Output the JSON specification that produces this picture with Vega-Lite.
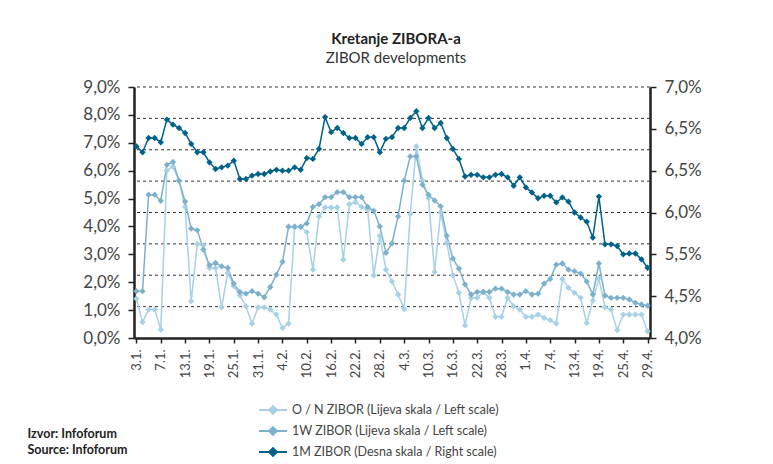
{
  "$schema": "https://vega.github.io/schema/vega-lite/v6.json",
  "width": 516,
  "height": 251,
  "autosize": {"type": "none"},
  "padding": {"left": 134, "top": 87, "right": 123, "bottom": 126},
  "background": "white",
  "config": {"view": {"stroke": null}},
  "title": {
    "text": "Kretanje ZIBORA-a",
    "subtitle": "ZIBOR developments",
    "anchor": "middle",
    "offset": 12,
    "dx": 4,
    "font": "Lato",
    "fontSize": 15,
    "fontWeight": "bold",
    "color": "#222222",
    "subtitleFont": "Lato",
    "subtitleFontSize": 15,
    "subtitleColor": "#333333",
    "subtitlePadding": 4
  },
  "datasets": {
    "grid": [{"g": 1}, {"g": 2}, {"g": 3}, {"g": 4}, {"g": 5}, {"g": 6}, {"g": 7}, {"g": 8}],
    "z": [
      {"d": "3.1.", "ON": 1.41, "1W": 1.68, "1M": 6.29},
      {"d": "4.1.", "ON": 0.57, "1W": 1.68, "1M": 6.22},
      {"d": "5.1.", "ON": 1.02, "1W": 5.14, "1M": 6.39},
      {"d": "6.1.", "ON": 1.02, "1W": 5.14, "1M": 6.39},
      {"d": "7.1.", "ON": 0.30, "1W": 4.92, "1M": 6.34},
      {"d": "10.1.", "ON": 6.00, "1W": 6.21, "1M": 6.61},
      {"d": "11.1.", "ON": 6.15, "1W": 6.31, "1M": 6.55},
      {"d": "12.1.", "ON": 5.64, "1W": 5.64, "1M": 6.51},
      {"d": "13.1.", "ON": 4.70, "1W": 4.89, "1M": 6.45},
      {"d": "14.1.", "ON": 1.32, "1W": 3.92, "1M": 6.32},
      {"d": "17.1.", "ON": 3.37, "1W": 3.86, "1M": 6.22},
      {"d": "18.1.", "ON": 3.32, "1W": 3.17, "1M": 6.22},
      {"d": "19.1.", "ON": 2.51, "1W": 2.61, "1M": 6.10},
      {"d": "20.1.", "ON": 2.51, "1W": 2.69, "1M": 6.02},
      {"d": "21.1.", "ON": 1.10, "1W": 2.57, "1M": 6.04},
      {"d": "24.1.", "ON": 2.33, "1W": 2.51, "1M": 6.06},
      {"d": "25.1.", "ON": 1.86, "1W": 1.95, "1M": 6.12},
      {"d": "26.1.", "ON": 1.53, "1W": 1.65, "1M": 5.90},
      {"d": "27.1.", "ON": 1.14, "1W": 1.59, "1M": 5.90},
      {"d": "28.1.", "ON": 0.52, "1W": 1.68, "1M": 5.94},
      {"d": "31.1.", "ON": 1.10, "1W": 1.59, "1M": 5.96},
      {"d": "1.2.", "ON": 1.10, "1W": 1.46, "1M": 5.96},
      {"d": "2.2.", "ON": 1.02, "1W": 1.83, "1M": 5.99},
      {"d": "3.2.", "ON": 0.84, "1W": 2.27, "1M": 6.01},
      {"d": "4.2.", "ON": 0.36, "1W": 2.73, "1M": 6.00},
      {"d": "7.2.", "ON": 0.52, "1W": 3.99, "1M": 6.00},
      {"d": "8.2.", "ON": 3.99, "1W": 3.99, "1M": 6.04},
      {"d": "9.2.", "ON": 3.99, "1W": 3.99, "1M": 6.01},
      {"d": "10.2.", "ON": 3.79, "1W": 4.11, "1M": 6.15},
      {"d": "11.2.", "ON": 2.45, "1W": 4.70, "1M": 6.14},
      {"d": "14.2.", "ON": 4.36, "1W": 4.80, "1M": 6.26},
      {"d": "15.2.", "ON": 4.68, "1W": 5.05, "1M": 6.64},
      {"d": "16.2.", "ON": 4.68, "1W": 5.05, "1M": 6.46},
      {"d": "17.2.", "ON": 4.68, "1W": 5.23, "1M": 6.51},
      {"d": "18.2.", "ON": 2.81, "1W": 5.23, "1M": 6.45},
      {"d": "21.2.", "ON": 4.80, "1W": 5.05, "1M": 6.39},
      {"d": "22.2.", "ON": 4.87, "1W": 5.05, "1M": 6.39},
      {"d": "23.2.", "ON": 4.70, "1W": 5.05, "1M": 6.32},
      {"d": "24.2.", "ON": 4.60, "1W": 4.70, "1M": 6.40},
      {"d": "25.2.", "ON": 2.24, "1W": 4.56, "1M": 6.40},
      {"d": "28.2.", "ON": 3.67, "1W": 4.00, "1M": 6.22},
      {"d": "1.3.", "ON": 2.45, "1W": 3.05, "1M": 6.38},
      {"d": "2.3.", "ON": 2.03, "1W": 3.39, "1M": 6.40},
      {"d": "3.3.", "ON": 1.56, "1W": 4.36, "1M": 6.51},
      {"d": "4.3.", "ON": 1.04, "1W": 5.64, "1M": 6.51},
      {"d": "7.3.", "ON": 4.45, "1W": 6.51, "1M": 6.63},
      {"d": "8.3.", "ON": 6.87, "1W": 6.51, "1M": 6.71},
      {"d": "9.3.", "ON": 5.65, "1W": 5.50, "1M": 6.51},
      {"d": "10.3.", "ON": 5.02, "1W": 5.14, "1M": 6.63},
      {"d": "11.3.", "ON": 2.37, "1W": 4.93, "1M": 6.51},
      {"d": "14.3.", "ON": 4.50, "1W": 4.72, "1M": 6.57},
      {"d": "15.3.", "ON": 3.41, "1W": 3.67, "1M": 6.39},
      {"d": "16.3.", "ON": 2.25, "1W": 2.85, "1M": 6.26},
      {"d": "17.3.", "ON": 1.62, "1W": 2.49, "1M": 6.14},
      {"d": "18.3.", "ON": 0.45, "1W": 1.92, "1M": 5.93},
      {"d": "21.3.", "ON": 1.44, "1W": 1.56, "1M": 5.95},
      {"d": "22.3.", "ON": 1.44, "1W": 1.65, "1M": 5.95},
      {"d": "23.3.", "ON": 1.66, "1W": 1.65, "1M": 5.92},
      {"d": "24.3.", "ON": 1.44, "1W": 1.65, "1M": 5.92},
      {"d": "25.3.", "ON": 0.76, "1W": 1.77, "1M": 5.95},
      {"d": "28.3.", "ON": 0.76, "1W": 1.77, "1M": 5.96},
      {"d": "29.3.", "ON": 1.44, "1W": 1.65, "1M": 5.92},
      {"d": "30.3.", "ON": 1.14, "1W": 1.56, "1M": 5.82},
      {"d": "31.3.", "ON": 1.02, "1W": 1.56, "1M": 5.92},
      {"d": "1.4.", "ON": 0.76, "1W": 1.68, "1M": 5.80},
      {"d": "4.4.", "ON": 0.76, "1W": 1.56, "1M": 5.74},
      {"d": "5.4.", "ON": 0.84, "1W": 1.59, "1M": 5.67},
      {"d": "6.4.", "ON": 0.72, "1W": 1.95, "1M": 5.70},
      {"d": "7.4.", "ON": 0.64, "1W": 2.12, "1M": 5.70},
      {"d": "8.4.", "ON": 0.52, "1W": 2.63, "1M": 5.62},
      {"d": "11.4.", "ON": 2.12, "1W": 2.67, "1M": 5.68},
      {"d": "12.4.", "ON": 1.80, "1W": 2.45, "1M": 5.63},
      {"d": "13.4.", "ON": 1.62, "1W": 2.39, "1M": 5.50},
      {"d": "14.4.", "ON": 1.44, "1W": 2.31, "1M": 5.44},
      {"d": "15.4.", "ON": 0.54, "1W": 2.03, "1M": 5.39},
      {"d": "18.4.", "ON": 1.34, "1W": 1.56, "1M": 5.20},
      {"d": "19.4.", "ON": 2.13, "1W": 2.67, "1M": 5.69},
      {"d": "20.4.", "ON": 1.10, "1W": 1.52, "1M": 5.12},
      {"d": "21.4.", "ON": 1.02, "1W": 1.44, "1M": 5.12},
      {"d": "22.4.", "ON": 0.28, "1W": 1.44, "1M": 5.10},
      {"d": "25.4.", "ON": 0.84, "1W": 1.44, "1M": 5.00},
      {"d": "26.4.", "ON": 0.84, "1W": 1.38, "1M": 5.01},
      {"d": "27.4.", "ON": 0.84, "1W": 1.26, "1M": 5.01},
      {"d": "28.4.", "ON": 0.84, "1W": 1.20, "1M": 4.94},
      {"d": "29.4.", "ON": 0.24, "1W": 1.16, "1M": 4.84}
    ]
  },
  "data": {"name": "z"},
  "layer": [
    {
      "data": {"name": "grid"},
      "mark": {"type": "rule", "strokeDash": [3, 3], "color": "#333333", "strokeWidth": 1},
      "encoding": {
        "y": {"field": "g", "type": "quantitative", "scale": {"domain": [0, 8]}, "axis": null}
      }
    },
    {
      "transform": [{"fold": ["ON", "1W"], "as": ["s", "v"]}],
      "mark": {"type": "line", "strokeWidth": 1.5, "point": {"shape": "diamond", "size": 40, "filled": true}},
      "encoding": {
        "x": {
          "field": "d", "type": "ordinal", "sort": null,
          "scale": {"type": "point", "padding": 0.4},
          "axis": {
            "values": ["3.1.", "7.1.", "13.1.", "19.1.", "25.1.", "31.1.", "4.2.", "10.2.", "16.2.", "22.2.", "28.2.", "4.3.", "10.3.", "16.3.", "22.3.", "28.3.", "1.4.", "7.4.", "13.4.", "19.4.", "25.4.", "29.4."],
            "labelAngle": -90, "labelAlign": "right", "labelBaseline": "middle", "labelPadding": 6,
            "labelFont": "Lato", "labelFontSize": 13, "labelColor": "#444444", "labelOverlap": false,
            "tickSize": 5, "tickColor": "#222222", "tickWidth": 1.5,
            "domainColor": "#222222", "domainWidth": 2.5, "grid": false,
            "title": ["Izvor: Infoforum", "Source: Infoforum"],
            "titleX": -107, "titleY": 99, "titleAlign": "left", "titleAngle": 0,
            "titleBaseline": "alphabetic", "titleFont": "Lato", "titleFontSize": 12.5,
            "titleFontWeight": "bold", "titleColor": "#222222", "titleLineHeight": 16
          }
        },
        "y": {
          "field": "v", "type": "quantitative", "scale": {"domain": [0, 9], "nice": false},
          "axis": {
            "orient": "left", "values": [0, 1, 2, 3, 4, 5, 6, 7, 8, 9],
            "labelExpr": "replace(format(datum.value, '.1f'), '.', ',') + '%'",
            "grid": false, "title": null, "tickSize": 6, "tickColor": "#222222", "tickWidth": 1.5,
            "domainColor": "#222222", "domainWidth": 2.5,
            "labelFont": "Lato", "labelFontSize": 17, "labelColor": "#444444", "labelPadding": 8
          }
        },
        "color": {
          "field": "s", "type": "nominal",
          "scale": {"domain": ["ON", "1W", "1M"], "range": ["#a6d1e6", "#7cb0cc", "#00618a"]},
          "legend": {
            "title": null, "orient": "none", "legendX": 124, "legendY": 315,
            "labelExpr": "datum.value == 'ON' ? 'O / N ZIBOR (Lijeva skala / Left scale)' : datum.value == '1W' ? '1W ZIBOR (Lijeva skala / Left scale)' : '1M ZIBOR (Desna skala / Right scale)'",
            "symbolType": "M-1,0L3,0M1,-0.55L1.55,0L1,0.55L0.45,0Z",
            "symbolSize": 196, "symbolStrokeWidth": 2, "labelOffset": 18,
            "labelFont": "Lato", "labelFontSize": 12.5, "labelColor": "#444444",
            "rowPadding": 5, "labelLimit": 400
          }
        }
      }
    },
    {
      "transform": [{"fold": ["1M"], "as": ["s", "v"]}],
      "mark": {"type": "line", "strokeWidth": 1.5, "point": {"shape": "diamond", "size": 40, "filled": true}},
      "encoding": {
        "x": {"field": "d", "type": "ordinal", "sort": null, "scale": {"type": "point", "padding": 0.4}},
        "y": {
          "field": "v", "type": "quantitative", "scale": {"domain": [4, 7], "nice": false},
          "axis": {
            "orient": "right", "values": [4, 4.5, 5, 5.5, 6, 6.5, 7],
            "labelExpr": "datum.value == 7 ? '7,0%' : datum.value == 6.5 ? '6,5%' : datum.value == 6 ? '6,5%' : datum.value == 5.5 ? '6,0%' : datum.value == 5 ? '5,5%' : datum.value == 4.5 ? '4,5%' : '4,0%'",
            "grid": false, "title": null, "tickSize": 6, "tickColor": "#222222", "tickWidth": 1.5,
            "domainColor": "#222222", "domainWidth": 2.5,
            "labelFont": "Lato", "labelFontSize": 17, "labelColor": "#444444", "labelPadding": 8
          }
        },
        "color": {"field": "s", "type": "nominal"}
      }
    }
  ],
  "resolve": {"scale": {"y": "independent"}}
}
